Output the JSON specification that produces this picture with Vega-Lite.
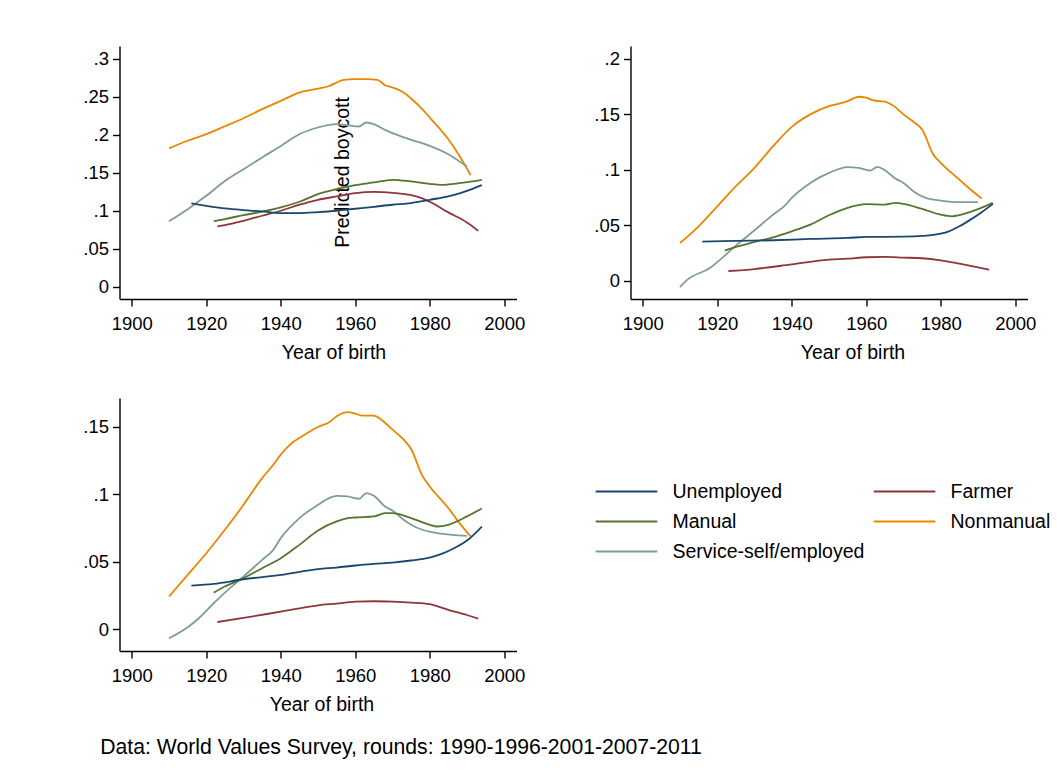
{
  "$schema": "https://vega.github.io/schema/vega-lite/v6.json",
  "background": "white",
  "padding": {"left": 82.5, "top": 46, "right": 5, "bottom": 5},
  "bounds": "flush",
  "columns": 2,
  "spacing": {"row": 99, "column": 114},
  "config": {
    "font": "Liberation Sans",
    "view": {"stroke": null},
    "axis": {
      "grid": false,
      "domainColor": "#000000",
      "domainWidth": 1.4,
      "tickColor": "#000000",
      "tickWidth": 1.4,
      "tickSize": 7,
      "labelFont": "Liberation Sans",
      "labelFontSize": 18.5,
      "labelColor": "#000000",
      "titleFont": "Liberation Sans",
      "titleFontSize": 19.5,
      "titleFontWeight": "normal",
      "titleColor": "#000000"
    },
    "axisX": {"labelPadding": 8, "titlePadding": 11},
    "axisY": {"labelPadding": 4, "labelAngle": 0},
    "legend": {
      "labelFont": "Liberation Sans",
      "labelFontSize": 19.5,
      "labelColor": "#000000",
      "labelLimit": 400
    },
    "title": {"font": "Liberation Sans", "fontWeight": "normal", "color": "#000000"}
  },
  "title": {
    "text": "Data: World Values Survey, rounds: 1990-1996-2001-2007-2011",
    "orient": "bottom",
    "anchor": "start",
    "fontSize": 21.2,
    "dx": 17.5,
    "offset": 23
  },
  "datasets": {
    "p1": [
      {"year": 1910, "value": 0.182, "group": "Nonmanual"},
      {"year": 1915, "value": 0.192, "group": "Nonmanual"},
      {"year": 1920, "value": 0.2006, "group": "Nonmanual"},
      {"year": 1925, "value": 0.211, "group": "Nonmanual"},
      {"year": 1930, "value": 0.2216, "group": "Nonmanual"},
      {"year": 1935, "value": 0.2335, "group": "Nonmanual"},
      {"year": 1940, "value": 0.2444, "group": "Nonmanual"},
      {"year": 1945, "value": 0.2554, "group": "Nonmanual"},
      {"year": 1950, "value": 0.2606, "group": "Nonmanual"},
      {"year": 1953, "value": 0.264, "group": "Nonmanual"},
      {"year": 1955, "value": 0.2685, "group": "Nonmanual"},
      {"year": 1957, "value": 0.272, "group": "Nonmanual"},
      {"year": 1960, "value": 0.2729, "group": "Nonmanual"},
      {"year": 1963, "value": 0.273, "group": "Nonmanual"},
      {"year": 1966, "value": 0.272, "group": "Nonmanual"},
      {"year": 1968, "value": 0.265, "group": "Nonmanual"},
      {"year": 1970, "value": 0.262, "group": "Nonmanual"},
      {"year": 1973, "value": 0.2554, "group": "Nonmanual"},
      {"year": 1975, "value": 0.2475, "group": "Nonmanual"},
      {"year": 1978, "value": 0.2335, "group": "Nonmanual"},
      {"year": 1980, "value": 0.2225, "group": "Nonmanual"},
      {"year": 1985, "value": 0.194, "group": "Nonmanual"},
      {"year": 1988, "value": 0.172, "group": "Nonmanual"},
      {"year": 1991, "value": 0.1467, "group": "Nonmanual"},

      {"year": 1910, "value": 0.086, "group": "Service-self/employed"},
      {"year": 1915, "value": 0.102, "group": "Service-self/employed"},
      {"year": 1920, "value": 0.1196, "group": "Service-self/employed"},
      {"year": 1925, "value": 0.139, "group": "Service-self/employed"},
      {"year": 1930, "value": 0.1546, "group": "Service-self/employed"},
      {"year": 1935, "value": 0.17, "group": "Service-self/employed"},
      {"year": 1940, "value": 0.185, "group": "Service-self/employed"},
      {"year": 1945, "value": 0.2006, "group": "Service-self/employed"},
      {"year": 1950, "value": 0.2094, "group": "Service-self/employed"},
      {"year": 1955, "value": 0.2138, "group": "Service-self/employed"},
      {"year": 1958, "value": 0.2124, "group": "Service-self/employed"},
      {"year": 1961, "value": 0.2107, "group": "Service-self/employed"},
      {"year": 1963, "value": 0.216, "group": "Service-self/employed"},
      {"year": 1965, "value": 0.2138, "group": "Service-self/employed"},
      {"year": 1968, "value": 0.2063, "group": "Service-self/employed"},
      {"year": 1970, "value": 0.2019, "group": "Service-self/employed"},
      {"year": 1975, "value": 0.1932, "group": "Service-self/employed"},
      {"year": 1980, "value": 0.1853, "group": "Service-self/employed"},
      {"year": 1985, "value": 0.1743, "group": "Service-self/employed"},
      {"year": 1990, "value": 0.158, "group": "Service-self/employed"},

      {"year": 1922, "value": 0.0863, "group": "Manual"},
      {"year": 1925, "value": 0.0889, "group": "Manual"},
      {"year": 1930, "value": 0.0942, "group": "Manual"},
      {"year": 1935, "value": 0.0986, "group": "Manual"},
      {"year": 1940, "value": 0.1042, "group": "Manual"},
      {"year": 1945, "value": 0.1117, "group": "Manual"},
      {"year": 1950, "value": 0.1218, "group": "Manual"},
      {"year": 1955, "value": 0.1283, "group": "Manual"},
      {"year": 1960, "value": 0.1336, "group": "Manual"},
      {"year": 1965, "value": 0.1371, "group": "Manual"},
      {"year": 1970, "value": 0.1406, "group": "Manual"},
      {"year": 1975, "value": 0.1384, "group": "Manual"},
      {"year": 1980, "value": 0.1353, "group": "Manual"},
      {"year": 1983, "value": 0.134, "group": "Manual"},
      {"year": 1988, "value": 0.1362, "group": "Manual"},
      {"year": 1994, "value": 0.1406, "group": "Manual"},

      {"year": 1923, "value": 0.0793, "group": "Farmer"},
      {"year": 1925, "value": 0.081, "group": "Farmer"},
      {"year": 1930, "value": 0.0867, "group": "Farmer"},
      {"year": 1935, "value": 0.0933, "group": "Farmer"},
      {"year": 1940, "value": 0.0999, "group": "Farmer"},
      {"year": 1945, "value": 0.1078, "group": "Farmer"},
      {"year": 1950, "value": 0.1143, "group": "Farmer"},
      {"year": 1955, "value": 0.1187, "group": "Farmer"},
      {"year": 1960, "value": 0.1231, "group": "Farmer"},
      {"year": 1965, "value": 0.1248, "group": "Farmer"},
      {"year": 1970, "value": 0.1235, "group": "Farmer"},
      {"year": 1975, "value": 0.1205, "group": "Farmer"},
      {"year": 1978, "value": 0.1161, "group": "Farmer"},
      {"year": 1980, "value": 0.1117, "group": "Farmer"},
      {"year": 1985, "value": 0.0977, "group": "Farmer"},
      {"year": 1990, "value": 0.0845, "group": "Farmer"},
      {"year": 1993, "value": 0.0736, "group": "Farmer"},

      {"year": 1916, "value": 0.1095, "group": "Unemployed"},
      {"year": 1920, "value": 0.1064, "group": "Unemployed"},
      {"year": 1925, "value": 0.1029, "group": "Unemployed"},
      {"year": 1930, "value": 0.1007, "group": "Unemployed"},
      {"year": 1935, "value": 0.099, "group": "Unemployed"},
      {"year": 1940, "value": 0.0968, "group": "Unemployed"},
      {"year": 1945, "value": 0.0968, "group": "Unemployed"},
      {"year": 1950, "value": 0.0981, "group": "Unemployed"},
      {"year": 1955, "value": 0.0999, "group": "Unemployed"},
      {"year": 1960, "value": 0.1025, "group": "Unemployed"},
      {"year": 1965, "value": 0.1051, "group": "Unemployed"},
      {"year": 1970, "value": 0.1078, "group": "Unemployed"},
      {"year": 1975, "value": 0.1099, "group": "Unemployed"},
      {"year": 1980, "value": 0.1143, "group": "Unemployed"},
      {"year": 1985, "value": 0.1187, "group": "Unemployed"},
      {"year": 1990, "value": 0.1261, "group": "Unemployed"},
      {"year": 1994, "value": 0.1336, "group": "Unemployed"}
    ],
    "p2": [
      {"year": 1910, "value": 0.034, "group": "Nonmanual"},
      {"year": 1915, "value": 0.049, "group": "Nonmanual"},
      {"year": 1920, "value": 0.067, "group": "Nonmanual"},
      {"year": 1925, "value": 0.0851, "group": "Nonmanual"},
      {"year": 1930, "value": 0.1017, "group": "Nonmanual"},
      {"year": 1935, "value": 0.1212, "group": "Nonmanual"},
      {"year": 1940, "value": 0.1386, "group": "Nonmanual"},
      {"year": 1945, "value": 0.1498, "group": "Nonmanual"},
      {"year": 1950, "value": 0.1573, "group": "Nonmanual"},
      {"year": 1953, "value": 0.1597, "group": "Nonmanual"},
      {"year": 1955, "value": 0.1618, "group": "Nonmanual"},
      {"year": 1958, "value": 0.1657, "group": "Nonmanual"},
      {"year": 1960, "value": 0.1648, "group": "Nonmanual"},
      {"year": 1962, "value": 0.1624, "group": "Nonmanual"},
      {"year": 1965, "value": 0.1612, "group": "Nonmanual"},
      {"year": 1967, "value": 0.1582, "group": "Nonmanual"},
      {"year": 1970, "value": 0.1498, "group": "Nonmanual"},
      {"year": 1973, "value": 0.1423, "group": "Nonmanual"},
      {"year": 1975, "value": 0.1362, "group": "Nonmanual"},
      {"year": 1978, "value": 0.1137, "group": "Nonmanual"},
      {"year": 1980, "value": 0.1062, "group": "Nonmanual"},
      {"year": 1985, "value": 0.0911, "group": "Nonmanual"},
      {"year": 1988, "value": 0.0821, "group": "Nonmanual"},
      {"year": 1991, "value": 0.074, "group": "Nonmanual"},

      {"year": 1910, "value": -0.0057, "group": "Service-self/employed"},
      {"year": 1912, "value": 0.0009, "group": "Service-self/employed"},
      {"year": 1918, "value": 0.0114, "group": "Service-self/employed"},
      {"year": 1922, "value": 0.0226, "group": "Service-self/employed"},
      {"year": 1925, "value": 0.0316, "group": "Service-self/employed"},
      {"year": 1930, "value": 0.0454, "group": "Service-self/employed"},
      {"year": 1935, "value": 0.0595, "group": "Service-self/employed"},
      {"year": 1938, "value": 0.0671, "group": "Service-self/employed"},
      {"year": 1940, "value": 0.0746, "group": "Service-self/employed"},
      {"year": 1945, "value": 0.0881, "group": "Service-self/employed"},
      {"year": 1950, "value": 0.0971, "group": "Service-self/employed"},
      {"year": 1955, "value": 0.1023, "group": "Service-self/employed"},
      {"year": 1958, "value": 0.1017, "group": "Service-self/employed"},
      {"year": 1961, "value": 0.0992, "group": "Service-self/employed"},
      {"year": 1963, "value": 0.1026, "group": "Service-self/employed"},
      {"year": 1965, "value": 0.0995, "group": "Service-self/employed"},
      {"year": 1968, "value": 0.0917, "group": "Service-self/employed"},
      {"year": 1970, "value": 0.0881, "group": "Service-self/employed"},
      {"year": 1973, "value": 0.0797, "group": "Service-self/employed"},
      {"year": 1976, "value": 0.0746, "group": "Service-self/employed"},
      {"year": 1980, "value": 0.0722, "group": "Service-self/employed"},
      {"year": 1985, "value": 0.0707, "group": "Service-self/employed"},
      {"year": 1990, "value": 0.0707, "group": "Service-self/employed"},

      {"year": 1922, "value": 0.0271, "group": "Manual"},
      {"year": 1925, "value": 0.0304, "group": "Manual"},
      {"year": 1930, "value": 0.0349, "group": "Manual"},
      {"year": 1935, "value": 0.0391, "group": "Manual"},
      {"year": 1940, "value": 0.0445, "group": "Manual"},
      {"year": 1945, "value": 0.0505, "group": "Manual"},
      {"year": 1950, "value": 0.0589, "group": "Manual"},
      {"year": 1955, "value": 0.0656, "group": "Manual"},
      {"year": 1960, "value": 0.0689, "group": "Manual"},
      {"year": 1965, "value": 0.0686, "group": "Manual"},
      {"year": 1968, "value": 0.0701, "group": "Manual"},
      {"year": 1970, "value": 0.0692, "group": "Manual"},
      {"year": 1975, "value": 0.0647, "group": "Manual"},
      {"year": 1980, "value": 0.0595, "group": "Manual"},
      {"year": 1983, "value": 0.058, "group": "Manual"},
      {"year": 1988, "value": 0.062, "group": "Manual"},
      {"year": 1994, "value": 0.0701, "group": "Manual"},

      {"year": 1923, "value": 0.0087, "group": "Farmer"},
      {"year": 1930, "value": 0.0105, "group": "Farmer"},
      {"year": 1940, "value": 0.0147, "group": "Farmer"},
      {"year": 1950, "value": 0.0189, "group": "Farmer"},
      {"year": 1955, "value": 0.0198, "group": "Farmer"},
      {"year": 1960, "value": 0.0211, "group": "Farmer"},
      {"year": 1965, "value": 0.0214, "group": "Farmer"},
      {"year": 1970, "value": 0.0208, "group": "Farmer"},
      {"year": 1975, "value": 0.0202, "group": "Farmer"},
      {"year": 1980, "value": 0.0183, "group": "Farmer"},
      {"year": 1985, "value": 0.0153, "group": "Farmer"},
      {"year": 1990, "value": 0.012, "group": "Farmer"},
      {"year": 1993, "value": 0.0099, "group": "Farmer"},

      {"year": 1916, "value": 0.0352, "group": "Unemployed"},
      {"year": 1925, "value": 0.0358, "group": "Unemployed"},
      {"year": 1935, "value": 0.0364, "group": "Unemployed"},
      {"year": 1945, "value": 0.0376, "group": "Unemployed"},
      {"year": 1955, "value": 0.0385, "group": "Unemployed"},
      {"year": 1960, "value": 0.0394, "group": "Unemployed"},
      {"year": 1970, "value": 0.0397, "group": "Unemployed"},
      {"year": 1975, "value": 0.0403, "group": "Unemployed"},
      {"year": 1978, "value": 0.0412, "group": "Unemployed"},
      {"year": 1982, "value": 0.0442, "group": "Unemployed"},
      {"year": 1985, "value": 0.049, "group": "Unemployed"},
      {"year": 1988, "value": 0.055, "group": "Unemployed"},
      {"year": 1991, "value": 0.0617, "group": "Unemployed"},
      {"year": 1994, "value": 0.0692, "group": "Unemployed"}
    ],
    "p3": [
      {"year": 1910, "value": 0.0243, "group": "Nonmanual"},
      {"year": 1915, "value": 0.0403, "group": "Nonmanual"},
      {"year": 1920, "value": 0.0564, "group": "Nonmanual"},
      {"year": 1925, "value": 0.0738, "group": "Nonmanual"},
      {"year": 1930, "value": 0.0923, "group": "Nonmanual"},
      {"year": 1935, "value": 0.1121, "group": "Nonmanual"},
      {"year": 1938, "value": 0.122, "group": "Nonmanual"},
      {"year": 1940, "value": 0.1295, "group": "Nonmanual"},
      {"year": 1943, "value": 0.1381, "group": "Nonmanual"},
      {"year": 1945, "value": 0.1418, "group": "Nonmanual"},
      {"year": 1950, "value": 0.15, "group": "Nonmanual"},
      {"year": 1953, "value": 0.1535, "group": "Nonmanual"},
      {"year": 1955, "value": 0.1579, "group": "Nonmanual"},
      {"year": 1958, "value": 0.1611, "group": "Nonmanual"},
      {"year": 1960, "value": 0.1599, "group": "Nonmanual"},
      {"year": 1962, "value": 0.1584, "group": "Nonmanual"},
      {"year": 1965, "value": 0.1584, "group": "Nonmanual"},
      {"year": 1967, "value": 0.1554, "group": "Nonmanual"},
      {"year": 1970, "value": 0.148, "group": "Nonmanual"},
      {"year": 1973, "value": 0.1406, "group": "Nonmanual"},
      {"year": 1975, "value": 0.1337, "group": "Nonmanual"},
      {"year": 1978, "value": 0.1139, "group": "Nonmanual"},
      {"year": 1980, "value": 0.1059, "group": "Nonmanual"},
      {"year": 1985, "value": 0.0899, "group": "Nonmanual"},
      {"year": 1988, "value": 0.0787, "group": "Nonmanual"},
      {"year": 1991, "value": 0.0688, "group": "Nonmanual"},

      {"year": 1910, "value": -0.0067, "group": "Service-self/employed"},
      {"year": 1915, "value": 0.0015, "group": "Service-self/employed"},
      {"year": 1918, "value": 0.0082, "group": "Service-self/employed"},
      {"year": 1922, "value": 0.0193, "group": "Service-self/employed"},
      {"year": 1925, "value": 0.0272, "group": "Service-self/employed"},
      {"year": 1930, "value": 0.0391, "group": "Service-self/employed"},
      {"year": 1935, "value": 0.0515, "group": "Service-self/employed"},
      {"year": 1938, "value": 0.0589, "group": "Service-self/employed"},
      {"year": 1940, "value": 0.0676, "group": "Service-self/employed"},
      {"year": 1945, "value": 0.0824, "group": "Service-self/employed"},
      {"year": 1950, "value": 0.0923, "group": "Service-self/employed"},
      {"year": 1953, "value": 0.0973, "group": "Service-self/employed"},
      {"year": 1955, "value": 0.099, "group": "Service-self/employed"},
      {"year": 1958, "value": 0.0985, "group": "Service-self/employed"},
      {"year": 1961, "value": 0.0968, "group": "Service-self/employed"},
      {"year": 1963, "value": 0.101, "group": "Service-self/employed"},
      {"year": 1965, "value": 0.099, "group": "Service-self/employed"},
      {"year": 1968, "value": 0.0911, "group": "Service-self/employed"},
      {"year": 1970, "value": 0.0881, "group": "Service-self/employed"},
      {"year": 1973, "value": 0.0812, "group": "Service-self/employed"},
      {"year": 1975, "value": 0.0775, "group": "Service-self/employed"},
      {"year": 1978, "value": 0.0738, "group": "Service-self/employed"},
      {"year": 1982, "value": 0.0713, "group": "Service-self/employed"},
      {"year": 1986, "value": 0.07, "group": "Service-self/employed"},
      {"year": 1990, "value": 0.0693, "group": "Service-self/employed"},

      {"year": 1922, "value": 0.0272, "group": "Manual"},
      {"year": 1925, "value": 0.0317, "group": "Manual"},
      {"year": 1930, "value": 0.0379, "group": "Manual"},
      {"year": 1935, "value": 0.0453, "group": "Manual"},
      {"year": 1940, "value": 0.0527, "group": "Manual"},
      {"year": 1945, "value": 0.0626, "group": "Manual"},
      {"year": 1950, "value": 0.0733, "group": "Manual"},
      {"year": 1955, "value": 0.08, "group": "Manual"},
      {"year": 1958, "value": 0.0824, "group": "Manual"},
      {"year": 1960, "value": 0.0829, "group": "Manual"},
      {"year": 1965, "value": 0.0837, "group": "Manual"},
      {"year": 1968, "value": 0.0861, "group": "Manual"},
      {"year": 1970, "value": 0.0861, "group": "Manual"},
      {"year": 1975, "value": 0.0824, "group": "Manual"},
      {"year": 1980, "value": 0.0775, "group": "Manual"},
      {"year": 1982, "value": 0.0762, "group": "Manual"},
      {"year": 1985, "value": 0.0775, "group": "Manual"},
      {"year": 1990, "value": 0.0837, "group": "Manual"},
      {"year": 1994, "value": 0.0896, "group": "Manual"},

      {"year": 1923, "value": 0.0054, "group": "Farmer"},
      {"year": 1930, "value": 0.0084, "group": "Farmer"},
      {"year": 1940, "value": 0.0131, "group": "Farmer"},
      {"year": 1950, "value": 0.0178, "group": "Farmer"},
      {"year": 1955, "value": 0.0191, "group": "Farmer"},
      {"year": 1960, "value": 0.0205, "group": "Farmer"},
      {"year": 1965, "value": 0.0208, "group": "Farmer"},
      {"year": 1970, "value": 0.0205, "group": "Farmer"},
      {"year": 1975, "value": 0.0198, "group": "Farmer"},
      {"year": 1980, "value": 0.0186, "group": "Farmer"},
      {"year": 1985, "value": 0.0144, "group": "Farmer"},
      {"year": 1990, "value": 0.0106, "group": "Farmer"},
      {"year": 1993, "value": 0.0079, "group": "Farmer"},

      {"year": 1916, "value": 0.0324, "group": "Unemployed"},
      {"year": 1922, "value": 0.0337, "group": "Unemployed"},
      {"year": 1930, "value": 0.0371, "group": "Unemployed"},
      {"year": 1940, "value": 0.0403, "group": "Unemployed"},
      {"year": 1950, "value": 0.0446, "group": "Unemployed"},
      {"year": 1955, "value": 0.0458, "group": "Unemployed"},
      {"year": 1960, "value": 0.0473, "group": "Unemployed"},
      {"year": 1965, "value": 0.0485, "group": "Unemployed"},
      {"year": 1970, "value": 0.0495, "group": "Unemployed"},
      {"year": 1975, "value": 0.051, "group": "Unemployed"},
      {"year": 1980, "value": 0.0532, "group": "Unemployed"},
      {"year": 1983, "value": 0.0557, "group": "Unemployed"},
      {"year": 1986, "value": 0.0594, "group": "Unemployed"},
      {"year": 1990, "value": 0.0658, "group": "Unemployed"},
      {"year": 1994, "value": 0.0762, "group": "Unemployed"}
    ]
  },
  "concat": [
    {
      "width": 397,
      "height": 253,
      "data": {"name": "p1"},
      "mark": {"type": "line", "strokeWidth": 1.8, "interpolate": "monotone"},
      "encoding": {
        "x": {"field": "year", "type": "quantitative",
              "scale": {"domain": [1896.7, 2003.3], "nice": false, "zero": false},
              "axis": {"values": [1900, 1920, 1940, 1960, 1980, 2000], "format": "d", "title": "Year of birth", "titleX": 214}},
        "y": {"field": "value", "type": "quantitative",
              "scale": {"domain": [-0.0162, 0.3166], "nice": false, "zero": false},
              "axis": {"values": [0, 0.05, 0.1, 0.15, 0.2, 0.25, 0.3],
                       "labelExpr": "replace(format(datum.value, '.2~f'), '0.', '.')",
                       "title": "Predicted boycott", "titleAngle": -90, "titleBaseline": "bottom",
                       "titleAlign": "center", "titleX": 233, "titleY": 126, "titleFontSize": 19.5}},
        "color": {"field": "group", "type": "nominal",
                  "scale": {"domain": ["Unemployed", "Manual", "Service-self/employed", "Farmer", "Nonmanual"],
                            "range": ["#1a476f", "#55752f", "#7f9d93", "#90353b", "#ec8500"]},
                  "legend": {"title": null, "orient": "none", "legendX": 475, "legendY": 436,
                             "columns": 2, "symbolType": "stroke", "symbolSize": 3800,
                             "symbolStrokeWidth": 1.8, "labelOffset": 14, "columnPadding": 8,
                             "rowPadding": 10, "clipHeight": 19}}
      }
    },
    {
      "width": 397,
      "height": 253,
      "data": {"name": "p2"},
      "mark": {"type": "line", "strokeWidth": 1.8, "interpolate": "monotone"},
      "encoding": {
        "x": {"field": "year", "type": "quantitative",
              "scale": {"domain": [1896.7, 2003.3], "nice": false, "zero": false},
              "axis": {"values": [1900, 1920, 1940, 1960, 1980, 2000], "format": "d", "title": "Year of birth", "titleX": 222}},
        "y": {"field": "value", "type": "quantitative",
              "scale": {"domain": [-0.0165, 0.2114], "nice": false, "zero": false},
              "axis": {"values": [0, 0.05, 0.1, 0.15, 0.2],
                       "labelExpr": "replace(format(datum.value, '.2~f'), '0.', '.')",
                       "title": null}},
        "color": {"field": "group", "type": "nominal"}
      }
    },
    {
      "width": 397,
      "height": 253,
      "data": {"name": "p3"},
      "mark": {"type": "line", "strokeWidth": 1.8, "interpolate": "monotone"},
      "encoding": {
        "x": {"field": "year", "type": "quantitative",
              "scale": {"domain": [1896.7, 2003.3], "nice": false, "zero": false},
              "axis": {"values": [1900, 1920, 1940, 1960, 1980, 2000], "format": "d", "title": "Year of birth", "titleX": 202}},
        "y": {"field": "value", "type": "quantitative",
              "scale": {"domain": [-0.0161, 0.1715], "nice": false, "zero": false},
              "axis": {"values": [0, 0.05, 0.1, 0.15],
                       "labelExpr": "replace(format(datum.value, '.2~f'), '0.', '.')",
                       "title": null}},
        "color": {"field": "group", "type": "nominal"}
      }
    }
  ]
}
